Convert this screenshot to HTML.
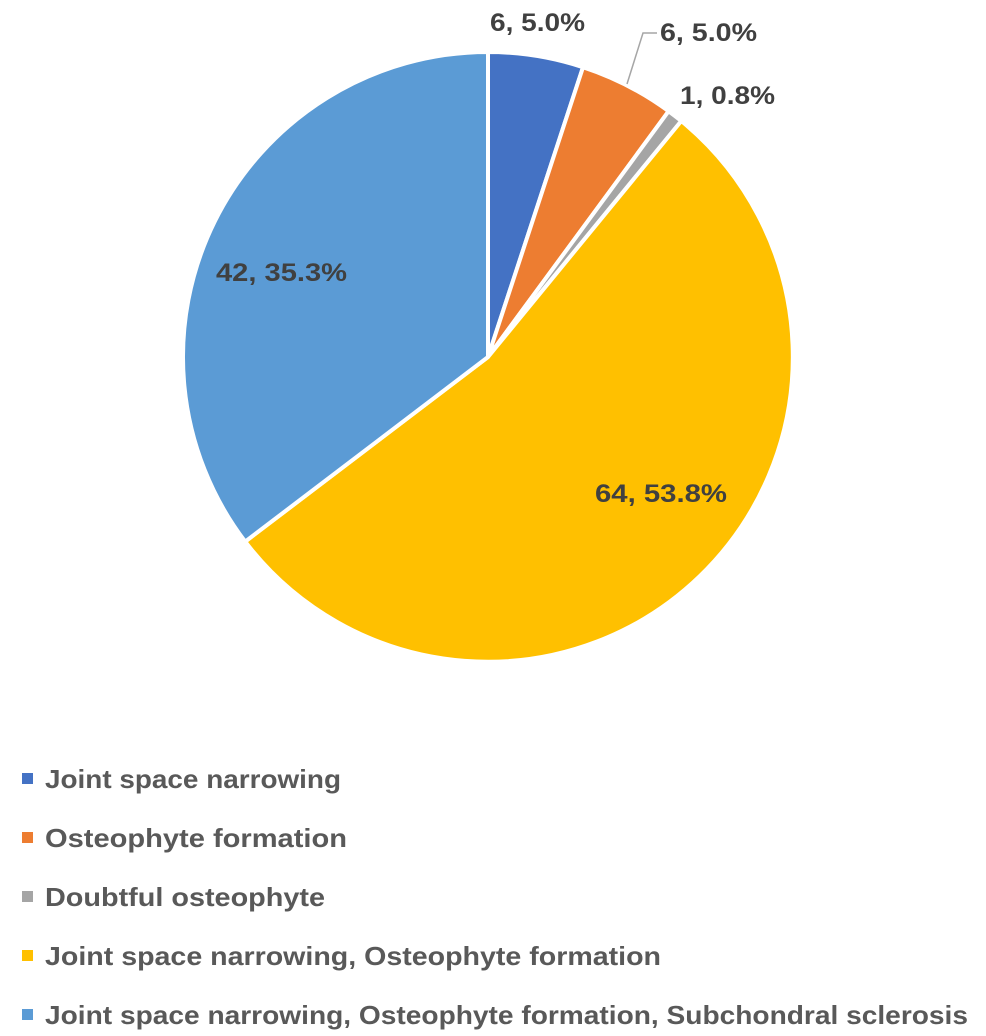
<!DOCTYPE html>
<html><head><style>
html,body{margin:0;padding:0;background:#fff;}
svg text{font-family:"Liberation Sans",sans-serif;font-weight:bold;}
</style></head><body>
<svg width="986" height="1031" viewBox="0 0 986 1031" xmlns="http://www.w3.org/2000/svg">
<g stroke="#fff" stroke-width="4" stroke-linejoin="round">
<path d="M488,357 L488,52 A305,305 0 0 1 583.0,67.2 Z" fill="#4472C4"/>
<path d="M488,357 L583.0,67.2 A305,305 0 0 1 668.6,111.2 Z" fill="#ED7D31"/>
<path d="M488,357 L668.6,111.2 A305,305 0 0 1 681.3,121.0 Z" fill="#A5A5A5"/>
<path d="M488,357 L681.3,121.0 A305,305 0 1 1 245.2,541.6 Z" fill="#FFC000"/>
<path d="M488,357 L245.2,541.6 A305,305 0 0 1 488,52 Z" fill="#5B9BD5"/>
</g>
<polyline points="627,84 643,33 657,33" fill="none" stroke="#a6a6a6" stroke-width="1.5"/>
<g fill="#404040" font-size="25" lengthAdjust="spacingAndGlyphs">
<text x="490" y="31" textLength="95" lengthAdjust="spacingAndGlyphs">6, 5.0%</text>
<text x="660" y="41" textLength="97" lengthAdjust="spacingAndGlyphs">6, 5.0%</text>
<text x="680" y="104" textLength="95" lengthAdjust="spacingAndGlyphs">1, 0.8%</text>
<text x="216" y="281" textLength="131" lengthAdjust="spacingAndGlyphs">42, 35.3%</text>
<text x="595" y="502" textLength="132" lengthAdjust="spacingAndGlyphs">64, 53.8%</text>
</g>
<g font-size="26" fill="#595959">
<rect x="22" y="773" width="11" height="11" fill="#4472C4"/>
<text x="45" y="788" textLength="296" lengthAdjust="spacingAndGlyphs">Joint space narrowing</text>
<rect x="22" y="832" width="11" height="11" fill="#ED7D31"/>
<text x="45" y="847" textLength="302" lengthAdjust="spacingAndGlyphs">Osteophyte formation</text>
<rect x="22" y="891" width="11" height="11" fill="#A5A5A5"/>
<text x="45" y="906" textLength="280" lengthAdjust="spacingAndGlyphs">Doubtful osteophyte</text>
<rect x="22" y="950" width="11" height="11" fill="#FFC000"/>
<text x="45" y="965" textLength="616" lengthAdjust="spacingAndGlyphs">Joint space narrowing, Osteophyte formation</text>
<rect x="22" y="1009" width="11" height="11" fill="#5B9BD5"/>
<text x="45" y="1024" textLength="923" lengthAdjust="spacingAndGlyphs">Joint space narrowing, Osteophyte formation, Subchondral sclerosis</text>
</g>
</svg>
</body></html>
